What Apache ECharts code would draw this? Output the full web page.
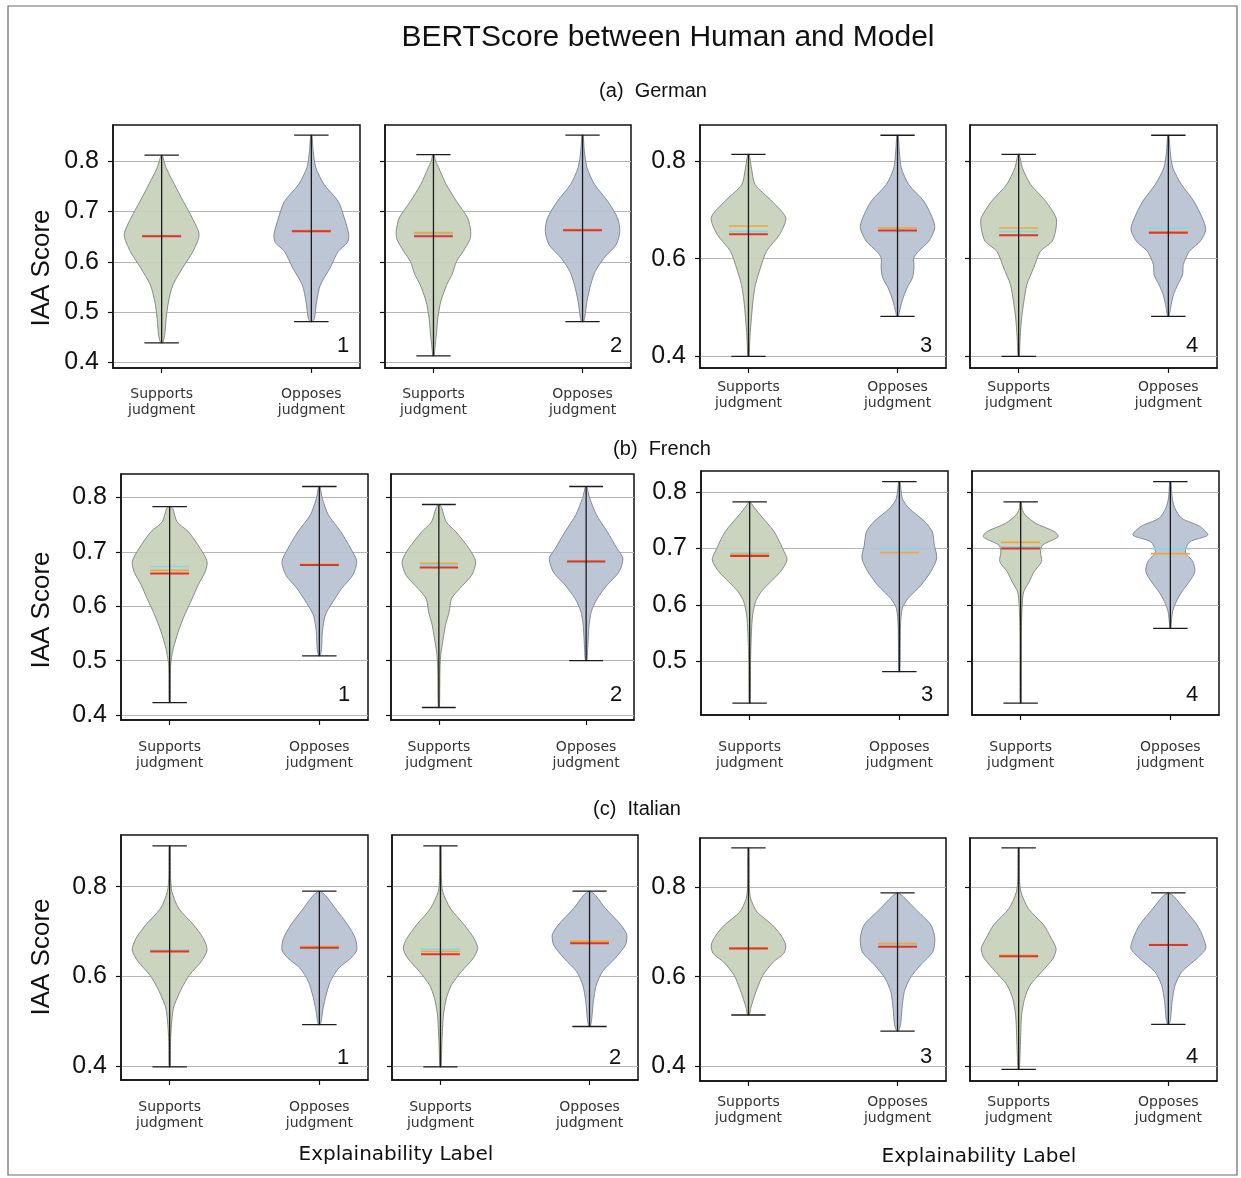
<!DOCTYPE html>
<html>
<head>
<meta charset="utf-8">
<script src="https://cdn.jsdelivr.net/npm/echarts@6/dist/echarts.min.js"></script>
<style>
html, body { margin: 0; padding: 0; background: #ffffff; }
#chart { width: 1241px; height: 1178px; }
</style>
</head>
<body>
<div id="chart"></div>
<script>
// ---------------- DATA ----------------
const chartTitle = 'BERTScore between Human and Model';
const languageLabels = ['(a)  German', '(b)  French', '(c)  Italian'];
const categories = ['Supports\njudgment', 'Opposes\njudgment'];
const categoryPositions = [1, 2];
const panelNumbers = ['1', '2', '3', '4'];
const yAxisName = 'IAA Score';
const xAxisName = 'Explainability Label';

// tick values
const yTicksGermanLeft = [0.4, 0.5, 0.6, 0.7, 0.8];
const yTicksGermanRight = [0.4, 0.6, 0.8];
const yTicksFrenchLeft = [0.4, 0.5, 0.6, 0.7, 0.8];
const yTicksFrenchRight = [0.5, 0.6, 0.7, 0.8];
const yTicksItalian = [0.4, 0.6, 0.8];

// ---- German ----  profiles: [score, half-width of density]
const germanSupportsMin = [0.439, 0.413, 0.400, 0.400];
const germanSupportsMax = [0.812, 0.813, 0.814, 0.814];
const germanSupportsMedians = [[0.651, 0.652, 0.653], [0.651, 0.658, 0.655], [0.650, 0.667, 0.656], [0.648, 0.663, 0.656]];
const germanSupportsProfiles = [
  [[0.812,0.004],[0.806,0.01],[0.787,0.03],[0.754,0.085],[0.72,0.145],[0.687,0.205],[0.654,0.25],[0.621,0.21],[0.588,0.14],[0.554,0.075],[0.52,0.045],[0.487,0.03],[0.454,0.02],[0.439,0.006]],
  [[0.813,0.004],[0.80,0.015],[0.787,0.035],[0.754,0.085],[0.72,0.155],[0.687,0.23],[0.66,0.25],[0.645,0.245],[0.621,0.2],[0.601,0.155],[0.575,0.125],[0.555,0.09],[0.522,0.05],[0.49,0.03],[0.457,0.02],[0.43,0.01],[0.413,0.004]],
  [[0.814,0.004],[0.786,0.02],[0.752,0.045],[0.718,0.157],[0.684,0.25],[0.65,0.21],[0.615,0.12],[0.581,0.08],[0.547,0.047],[0.513,0.03],[0.479,0.02],[0.44,0.01],[0.40,0.004]],
  [[0.814,0.004],[0.786,0.025],[0.752,0.08],[0.718,0.18],[0.684,0.25],[0.663,0.25],[0.636,0.225],[0.615,0.145],[0.581,0.1],[0.547,0.055],[0.513,0.035],[0.479,0.02],[0.44,0.01],[0.40,0.004]]
];
const germanOpposesMin = [0.481, 0.481, 0.482, 0.482];
const germanOpposesMax = [0.852, 0.852, 0.853, 0.853];
const germanOpposesMedians = [[0.661, 0.662, 0.663], [0.663, 0.664, 0.662], [0.658, 0.663, 0.655], [0.653, 0.655, 0.663]];
const germanOpposesProfiles = [
  [[0.852,0.004],[0.82,0.012],[0.787,0.03],[0.754,0.085],[0.72,0.18],[0.687,0.22],[0.654,0.25],[0.638,0.24],[0.621,0.18],[0.588,0.125],[0.554,0.06],[0.52,0.035],[0.487,0.02],[0.481,0.006]],
  [[0.852,0.004],[0.82,0.012],[0.787,0.03],[0.754,0.08],[0.72,0.17],[0.687,0.235],[0.661,0.25],[0.634,0.225],[0.608,0.145],[0.581,0.085],[0.555,0.055],[0.522,0.03],[0.49,0.015],[0.481,0.006]],
  [[0.853,0.004],[0.82,0.012],[0.786,0.025],[0.752,0.075],[0.718,0.176],[0.684,0.233],[0.663,0.25],[0.636,0.21],[0.615,0.14],[0.602,0.11],[0.581,0.11],[0.561,0.10],[0.54,0.063],[0.513,0.03],[0.49,0.012],[0.482,0.005]],
  [[0.853,0.004],[0.82,0.012],[0.786,0.03],[0.752,0.088],[0.718,0.17],[0.684,0.226],[0.66,0.25],[0.636,0.214],[0.615,0.14],[0.588,0.1],[0.567,0.095],[0.547,0.063],[0.527,0.035],[0.50,0.015],[0.482,0.005]]
];

// ---- French ----
const frenchSupportsMin = [0.423, 0.414, 0.425, 0.425];
const frenchSupportsMax = [0.783, 0.787, 0.783, 0.783];
const frenchSupportsMedians = [[0.660, 0.666, 0.673], [0.671, 0.679, 0.676], [0.687, 0.690, 0.692], [0.700, 0.711, 0.703]];
const frenchSupportsProfiles = [
  [[0.783,0.004],[0.78,0.02],[0.755,0.05],[0.737,0.125],[0.706,0.205],[0.682,0.25],[0.663,0.237],[0.639,0.19],[0.614,0.15],[0.584,0.1],[0.553,0.057],[0.523,0.025],[0.51,0.015],[0.49,0.006],[0.423,0.004]],
  [[0.787,0.004],[0.78,0.02],[0.755,0.05],[0.737,0.115],[0.706,0.205],[0.682,0.25],[0.657,0.223],[0.633,0.143],[0.614,0.086],[0.59,0.07],[0.565,0.045],[0.541,0.03],[0.516,0.015],[0.49,0.008],[0.414,0.004]],
  [[0.783,0.004],[0.777,0.02],[0.76,0.07],[0.73,0.164],[0.70,0.22],[0.68,0.25],[0.659,0.206],[0.641,0.14],[0.623,0.076],[0.606,0.04],[0.582,0.02],[0.552,0.012],[0.50,0.006],[0.425,0.004]],
  [[0.783,0.004],[0.77,0.01],[0.76,0.03],[0.745,0.1],[0.73,0.227],[0.721,0.25],[0.706,0.145],[0.694,0.132],[0.677,0.14],[0.659,0.09],[0.641,0.057],[0.623,0.02],[0.60,0.01],[0.55,0.005],[0.425,0.004]]
];
const frenchOpposesMin = [0.509, 0.500, 0.481, 0.558];
const frenchOpposesMax = [0.820, 0.820, 0.819, 0.819];
const frenchOpposesMedians = [[0.676, 0.677, 0.673], [0.682, 0.683, 0.679], [null, 0.693, 0.700], [null, 0.691, 0.700]];
const frenchOpposesProfiles = [
  [[0.82,0.004],[0.798,0.02],[0.768,0.06],[0.737,0.143],[0.706,0.21],[0.682,0.25],[0.657,0.223],[0.633,0.15],[0.608,0.09],[0.584,0.04],[0.553,0.02],[0.523,0.015],[0.509,0.005]],
  [[0.82,0.004],[0.798,0.025],[0.768,0.07],[0.737,0.143],[0.706,0.21],[0.688,0.25],[0.663,0.223],[0.639,0.143],[0.614,0.075],[0.59,0.035],[0.565,0.02],[0.52,0.01],[0.50,0.005]],
  [[0.819,0.004],[0.789,0.02],[0.772,0.063],[0.748,0.17],[0.73,0.22],[0.706,0.234],[0.683,0.25],[0.659,0.21],[0.635,0.145],[0.611,0.057],[0.594,0.02],[0.564,0.008],[0.481,0.004]],
  [[0.819,0.004],[0.79,0.012],[0.772,0.03],[0.754,0.075],[0.739,0.2],[0.724,0.25],[0.712,0.13],[0.694,0.1],[0.677,0.15],[0.659,0.164],[0.641,0.126],[0.623,0.076],[0.606,0.04],[0.588,0.015],[0.564,0.005],[0.558,0.004]]
];

// ---- Italian ----
const italianSupportsMin = [0.399, 0.399, 0.514, 0.392];
const italianSupportsMax = [0.891, 0.891, 0.889, 0.889];
const italianSupportsMedians = [[0.656, 0.657, 0.659], [0.650, 0.656, 0.661], [0.663, 0.664, 0.665], [0.646, 0.648, 0.645]];
const italianSupportsProfiles = [
  [[0.891,0.004],[0.82,0.006],[0.789,0.015],[0.752,0.06],[0.715,0.16],[0.685,0.225],[0.659,0.25],[0.633,0.21],[0.604,0.133],[0.574,0.08],[0.552,0.05],[0.53,0.025],[0.493,0.012],[0.456,0.006],[0.399,0.004]],
  [[0.891,0.004],[0.82,0.006],[0.789,0.015],[0.752,0.066],[0.715,0.16],[0.685,0.225],[0.663,0.25],[0.641,0.22],[0.611,0.14],[0.581,0.073],[0.552,0.04],[0.515,0.02],[0.456,0.01],[0.399,0.004]],
  [[0.889,0.004],[0.80,0.006],[0.775,0.015],[0.745,0.058],[0.716,0.16],[0.693,0.218],[0.671,0.25],[0.652,0.237],[0.633,0.167],[0.603,0.096],[0.573,0.058],[0.551,0.035],[0.529,0.015],[0.514,0.006]],
  [[0.889,0.004],[0.82,0.006],[0.79,0.015],[0.753,0.064],[0.716,0.167],[0.686,0.218],[0.663,0.25],[0.641,0.23],[0.611,0.154],[0.581,0.077],[0.551,0.04],[0.514,0.02],[0.454,0.012],[0.416,0.008],[0.392,0.004]]
];
const italianOpposesMin = [0.493, 0.489, 0.478, 0.493];
const italianOpposesMax = [0.790, 0.790, 0.788, 0.788];
const italianOpposesMedians = [[0.664, 0.667, 0.661], [0.674, 0.679, 0.676], [0.667, 0.674, 0.670], [0.671, 0.672, 0.671]];
const italianOpposesProfiles = [
  [[0.79,0.004],[0.781,0.04],[0.752,0.106],[0.715,0.19],[0.685,0.24],[0.659,0.25],[0.641,0.21],[0.619,0.13],[0.589,0.073],[0.559,0.045],[0.53,0.025],[0.50,0.012],[0.493,0.005]],
  [[0.79,0.004],[0.781,0.04],[0.752,0.106],[0.715,0.21],[0.693,0.25],[0.67,0.24],[0.641,0.172],[0.611,0.086],[0.581,0.045],[0.544,0.025],[0.507,0.015],[0.489,0.005]],
  [[0.788,0.004],[0.779,0.04],[0.753,0.115],[0.716,0.224],[0.686,0.25],[0.656,0.237],[0.626,0.154],[0.596,0.083],[0.566,0.045],[0.529,0.03],[0.492,0.02],[0.478,0.005]],
  [[0.788,0.004],[0.779,0.04],[0.753,0.103],[0.716,0.192],[0.686,0.235],[0.663,0.25],[0.641,0.192],[0.611,0.09],[0.581,0.045],[0.544,0.025],[0.506,0.015],[0.493,0.005]]
];

// ---------------- STYLE / LAYOUT ----------------
const violinStats = [
  [
    { min: germanSupportsMin, max: germanSupportsMax, medians: germanSupportsMedians, profiles: germanSupportsProfiles },
    { min: germanOpposesMin, max: germanOpposesMax, medians: germanOpposesMedians, profiles: germanOpposesProfiles }
  ],
  [
    { min: frenchSupportsMin, max: frenchSupportsMax, medians: frenchSupportsMedians, profiles: frenchSupportsProfiles },
    { min: frenchOpposesMin, max: frenchOpposesMax, medians: frenchOpposesMedians, profiles: frenchOpposesProfiles }
  ],
  [
    { min: italianSupportsMin, max: italianSupportsMax, medians: italianSupportsMedians, profiles: italianSupportsProfiles },
    { min: italianOpposesMin, max: italianOpposesMax, medians: italianOpposesMedians, profiles: italianOpposesProfiles }
  ]
];

const violinFill = ['rgba(198,208,184,0.92)', 'rgba(182,193,209,0.92)'];
const violinEdge = ['#868d82', '#838b97'];
const medianColors = ['#e3342b', '#f2a43a', '#86d6e6']; // red, orange, cyan
const medianWidths = [2, 1.6, 1.6];
const textFont = 'Liberation Sans, Arial, Helvetica, sans-serif';
const labelFont = 'DejaVu Sans, sans-serif';

// panels: [left, top, width, height], y-range, ticks, show labels, x label margin, number position
const panels = [
  { row: 0, col: 0, rect: [113, 125, 247, 243], y: [0.389, 0.872], ticks: yTicksGermanLeft, split: 5, labels: true, xm: 19, num: [343, 346] },
  { row: 0, col: 1, rect: [385, 125, 246, 243], y: [0.389, 0.872], ticks: yTicksGermanLeft, split: 5, labels: false, xm: 19, num: [616, 346] },
  { row: 0, col: 2, rect: [700, 125, 246, 243], y: [0.376, 0.874], ticks: yTicksGermanRight, split: 3, labels: true, xm: 12, num: [926, 346] },
  { row: 0, col: 3, rect: [970, 125, 247, 243], y: [0.376, 0.874], ticks: yTicksGermanRight, split: 3, labels: false, xm: 12, num: [1192, 346] },
  { row: 1, col: 0, rect: [121, 474, 247, 246], y: [0.391, 0.843], ticks: yTicksFrenchLeft, split: 5, labels: true, xm: 20, num: [344, 695] },
  { row: 1, col: 1, rect: [391, 474, 243, 246], y: [0.391, 0.843], ticks: yTicksFrenchLeft, split: 5, labels: false, xm: 20, num: [616, 695] },
  { row: 1, col: 2, rect: [701, 471, 247, 244], y: [0.404, 0.838], ticks: yTicksFrenchRight, split: 4, labels: true, xm: 25, num: [927, 695] },
  { row: 1, col: 3, rect: [972, 471, 247, 244], y: [0.404, 0.838], ticks: yTicksFrenchRight, split: 4, labels: false, xm: 25, num: [1192, 695] },
  { row: 2, col: 0, rect: [121, 835, 247, 245], y: [0.370, 0.915], ticks: yTicksItalian, split: 3, labels: true, xm: 20, num: [343, 1058] },
  { row: 2, col: 1, rect: [392, 835, 246, 245], y: [0.370, 0.915], ticks: yTicksItalian, split: 3, labels: false, xm: 20, num: [615, 1058] },
  { row: 2, col: 2, rect: [700, 838, 246, 243], y: [0.366, 0.911], ticks: yTicksItalian, split: 3, labels: true, xm: 14, num: [926, 1057] },
  { row: 2, col: 3, rect: [970, 838, 247, 243], y: [0.366, 0.911], ticks: yTicksItalian, split: 3, labels: false, xm: 14, num: [1192, 1057] }
];

// ---------------- BUILD ----------------
const grids = [], xAxes = [], yAxes = [], series = [], graphics = [];

function makeRenderItem(row, col) {
  return function (params, api) {
    const pos = api.value(0);
    const cat = api.value(1);
    const st = violinStats[row][cat];
    const prof = st.profiles[col];
    const pts = [];
    prof.forEach(function (p) { pts.push(api.coord([pos + p[1], p[0]])); });
    prof.slice().reverse().forEach(function (p) { pts.push(api.coord([pos - p[1], p[0]])); });
    const children = [{
      type: 'polygon',
      shape: { points: pts, smooth: 0.25 },
      style: { fill: violinFill[cat], stroke: violinEdge[cat], lineWidth: 1 }
    }];
    const lo = st.min[col], hi = st.max[col];
    const line = function (x1v, y1v, x2v, y2v, color, w) {
      const a = api.coord([x1v, y1v]), b = api.coord([x2v, y2v]);
      return { type: 'line', shape: { x1: a[0], y1: a[1], x2: b[0], y2: b[1] }, style: { stroke: color, lineWidth: w } };
    };
    // medians: draw cyan, orange, then red on top
    [2, 1, 0].forEach(function (k) {
      const m = st.medians[col][k];
      if (m !== null && m !== undefined) children.push(line(pos - 0.13, m, pos + 0.13, m, medianColors[k], medianWidths[k]));
    });
    children.push(line(pos, lo, pos, hi, '#1c1c1c', 1.3));
    children.push(line(pos - 0.115, lo, pos + 0.115, lo, '#1c1c1c', 1.3));
    children.push(line(pos - 0.115, hi, pos + 0.115, hi, '#1c1c1c', 1.3));
    return { type: 'group', children: children };
  };
}

panels.forEach(function (p, i) {
  grids.push({
    left: p.rect[0], top: p.rect[1], width: p.rect[2], height: p.rect[3],
    show: true, borderColor: '#111', borderWidth: 1.5, backgroundColor: 'transparent',
    containLabel: false, outerBoundsMode: 'none'
  });
  xAxes.push({
    type: 'value', gridIndex: i, min: 0.675, max: 2.325,
    axisLine: { show: true, onZero: false, lineStyle: { color: '#111', width: 1.5 } },
    axisTick: { show: true, customValues: categoryPositions, length: 5, lineStyle: { color: '#111', width: 1.2 } },
    axisLabel: {
      show: true, customValues: categoryPositions, margin: p.xm,
      formatter: function (v) { return categories[Math.round(v) - 1]; },
      fontFamily: labelFont, fontSize: 14, lineHeight: 15.5, color: '#333', align: 'center', verticalAlign: 'top'
    },
    splitLine: { show: false }
  });
  yAxes.push({
    type: 'value', gridIndex: i, min: p.y[0], max: p.y[1], splitNumber: p.split,
    axisLine: { show: true, onZero: false, lineStyle: { color: '#111', width: 1.5 } },
    axisTick: { show: true, customValues: p.ticks, length: 5, lineStyle: { color: '#111', width: 1.2 } },
    axisLabel: {
      show: p.labels, customValues: p.ticks, margin: 14,
      formatter: function (v) { return Number(v).toFixed(1); },
      fontFamily: textFont, fontSize: 25, color: '#111'
    },
    splitLine: { show: true, lineStyle: { color: '#b4b4b4', width: 1 } }
  });
  series.push({
    type: 'custom', xAxisIndex: i, yAxisIndex: i, clip: false,
    renderItem: makeRenderItem(p.row, p.col),
    data: [[categoryPositions[0], 0], [categoryPositions[1], 1]],
    encode: { x: 0, y: -1 },
    silent: true
  });
  graphics.push({
    type: 'text', x: p.num[0], y: p.num[1],
    style: { text: panelNumbers[p.col], font: '22px ' + textFont, fill: '#111', textAlign: 'center', textVerticalAlign: 'middle' }
  });
});

// figure frame
graphics.push({ type: 'rect', shape: { x: 8, y: 6, width: 1229, height: 1169 }, style: { fill: 'none', stroke: '#6a6a6a', lineWidth: 1.2 }, z: -1 });
// title and sub titles
graphics.push({ type: 'text', x: 668, y: 38, style: { text: chartTitle, font: '30px ' + textFont, fill: '#111', textAlign: 'center', textVerticalAlign: 'middle' } });
[[653, 91], [662, 449], [637, 809]].forEach(function (pos, r) {
  graphics.push({ type: 'text', x: pos[0], y: pos[1], style: { text: languageLabels[r], font: '20px ' + textFont, fill: '#111', textAlign: 'center', textVerticalAlign: 'middle' } });
});
// y axis names
[[42, 268], [42, 610], [42, 957]].forEach(function (pos) {
  graphics.push({ type: 'text', x: pos[0], y: pos[1], rotation: Math.PI / 2, style: { text: yAxisName, font: '26px ' + textFont, fill: '#111', textAlign: 'center', textVerticalAlign: 'middle' } });
});
// x axis names
[[396, 1155], [979, 1157]].forEach(function (pos) {
  graphics.push({ type: 'text', x: pos[0], y: pos[1], style: { text: xAxisName, font: '20px ' + labelFont, fill: '#111', textAlign: 'center', textVerticalAlign: 'middle' } });
});

const chart = echarts.init(document.getElementById('chart'), null, { renderer: 'canvas' });
chart.setOption({
  backgroundColor: '#ffffff',
  animation: false,
  grid: grids,
  xAxis: xAxes,
  yAxis: yAxes,
  series: series,
  graphic: { elements: graphics }
});
</script>
</body>
</html>
